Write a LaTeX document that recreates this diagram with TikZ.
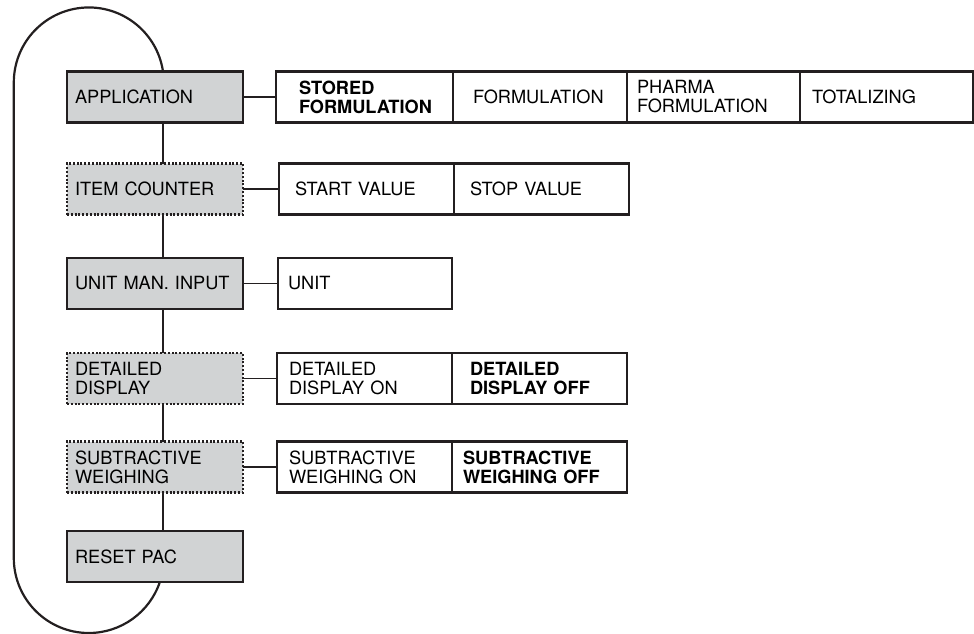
\documentclass[tikz,border=0pt]{standalone}
\usepackage{fontspec}
\setmainfont{TeX Gyre Heros}
\usetikzlibrary{positioning}
\definecolor{keygray}{RGB}{209,211,212}
\definecolor{ink}{RGB}{35,31,32}
\newcommand\labelfont{\fontsize{18.2}{19}\selectfont}

\begin{document}
\begin{tikzpicture}[x=1pt,y=-1pt,font=\labelfont,
    every node/.style={inner ysep=0pt,outer sep=0pt,minimum height=51pt,align=left},
    key/.style={draw=ink,fill=keygray,line width=2.4pt,text width=160pt,inner xsep=8pt},
    key dotted/.style={key,line width=2.4pt,dash pattern=on 2pt off 1.8pt},
    choice/.style 2 args={draw=ink,line width=2.2pt,text width=#1,inner xsep=#2},
    chosen/.style={font=\labelfont\bfseries},
    link/.style={draw=ink,line width=1.4pt},
    spine line/.style={draw=ink,line width=2.2pt}]
    \useasboundingbox (0,0) rectangle (974,634);
    \coordinate (spine) at (163,0);

    % menu keys
    \node[key] (app) at (155,97) {APPLICATION};
    \node[key dotted] (item) at (155,189) {ITEM COUNTER};
    \node[key] (unit) at (155,283.5) {UNIT MAN. INPUT};
    \node[key dotted] (detail) at (155,378.5) {DETAILED\\DISPLAY};
    \node[key dotted] (subtr) at (155,467) {SUBTRACTIVE\\WEIGHING};
    \node[key] (reset) at (155,556.5) {RESET PAC};

    % settings
    \node[choice={131pt}{23pt},chosen,anchor=west] (stored) at (276,97) {STORED\\FORMULATION};
    \node[choice={134pt}{20pt},right=0pt of stored] (formul) {FORMULATION};
    \node[choice={153pt}{10pt},right=0pt of formul] (pharma) {PHARMA\\FORMULATION};
    \node[choice={149pt}{12pt},right=0pt of pharma] (total) {TOTALIZING};

    \node[choice={143pt}{16pt},anchor=west] (start) at (279,189) {START VALUE};
    \node[choice={143pt}{16pt},right=0pt of start] (stop) {STOP VALUE};

    \node[choice={154pt}{10pt},anchor=west] (unitsel) at (278,283.5) {UNIT};

    \node[choice={151pt}{12pt},anchor=west] (detailon) at (277,378.5) {DETAILED\\DISPLAY ON};
    \node[choice={139pt}{18pt},chosen,right=0pt of detailon] (detailoff) {DETAILED\\DISPLAY OFF};

    \node[choice={151pt}{12pt},anchor=west] (subtron) at (277,467) {SUBTRACTIVE\\WEIGHING ON};
    \node[choice={153pt}{11pt},chosen,right=0pt of subtron] (subtroff) {SUBTRACTIVE\\WEIGHING OFF};

    \draw[link] (app) -- (stored)
      (item) -- (start)
      (unit) -- (unitsel)
      (detail) -- (detailon)
      (subtr) -- (subtron);

    \foreach \a/\b in {app/item,item/unit,unit/detail,detail/subtr,subtr/reset}
      \draw[spine line] (\a.south -| spine) -- (\b.north -| spine);

    % loop back
    \draw[spine line] (app.north -| spine) arc[start angle=8.4,end angle=180,radius=75pt]
      -- (13.8,558) arc[start angle=180,end angle=341.3,radius=75pt];
\end{tikzpicture}
\end{document}
